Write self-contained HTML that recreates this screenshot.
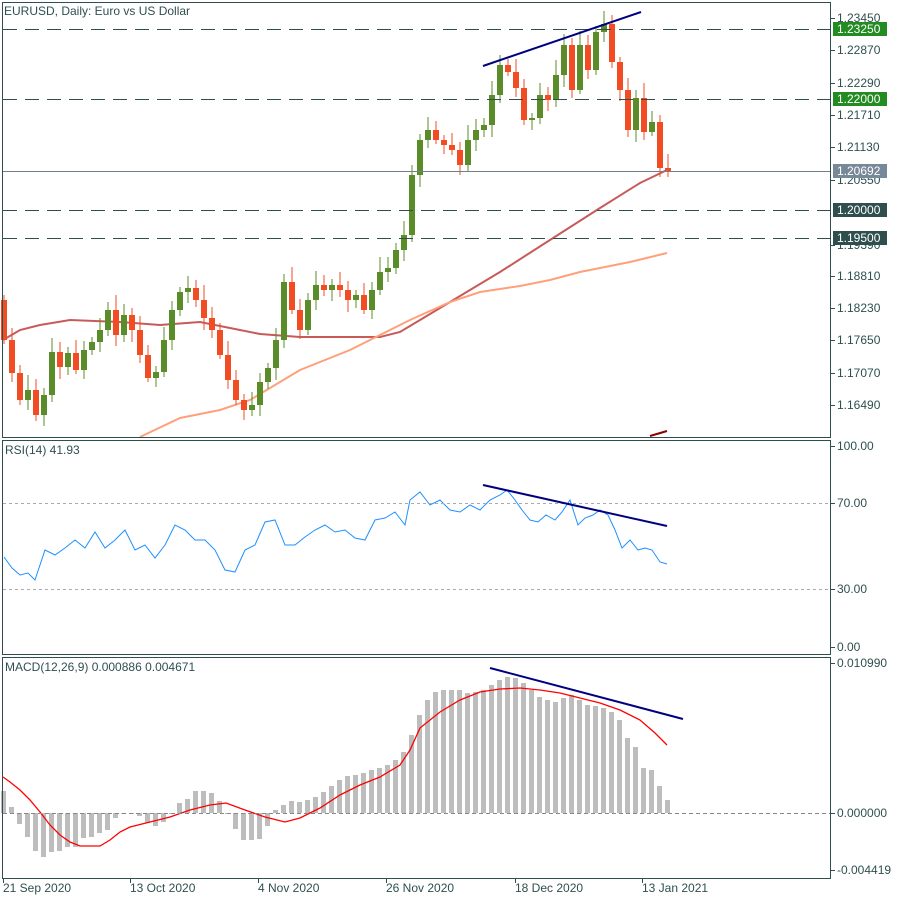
<!DOCTYPE html>
<html><head><meta charset="utf-8"><style>
body{margin:0;background:#fff;}
svg{display:block;font-family:"Liberation Sans",sans-serif;font-size:12px;}
</style></head><body>
<svg id="s" width="900" height="900" xmlns="http://www.w3.org/2000/svg">
<rect width="900" height="900" fill="#fff"/>
<g id="g"></g>
<g fill="none" stroke="#2f4f4f" stroke-width="1">
<rect x="2.5" y="2.5" width="828" height="435"/>
<rect x="2.5" y="440.5" width="828" height="214"/>
<rect x="2.5" y="657.5" width="828" height="221"/>
</g>
<g stroke-width="1">
<line x1="3" y1="29.5" x2="830" y2="29.5" stroke="#2f4f4f" stroke-dasharray="14,8"/>
<line x1="3" y1="99.5" x2="830" y2="99.5" stroke="#2f4f4f" stroke-dasharray="14,8"/>
<line x1="3" y1="171.5" x2="830" y2="171.5" stroke="#708090"/>
<line x1="3" y1="210.5" x2="830" y2="210.5" stroke="#2f4f4f" stroke-dasharray="14,8"/>
<line x1="3" y1="238.5" x2="830" y2="238.5" stroke="#2f4f4f" stroke-dasharray="14,8"/>
<line x1="3" y1="503.5" x2="830" y2="503.5" stroke="#aaa" stroke-dasharray="3,3"/>
<line x1="3" y1="589.5" x2="830" y2="589.5" stroke="#aaa" stroke-dasharray="3,3"/>
<line x1="3" y1="813.5" x2="830" y2="813.5" stroke="#888" stroke-dasharray="4,3"/>
</g>
<g fill="#2f4f4f">
<text x="4" y="15">EURUSD, Daily:  Euro vs US Dollar</text>
<text x="5" y="454">RSI(14) 41.93</text>
<text x="5" y="671">MACD(12,26,9) 0.000886 0.004671</text>
<g id="ticks" stroke="#2f4f4f"></g>
<text x="837" y="22">1.23450</text>
<text x="837" y="54">1.22870</text>
<text x="837" y="87">1.22290</text>
<text x="837" y="119">1.21710</text>
<text x="837" y="151">1.21130</text>
<text x="837" y="184">1.20550</text>
<text x="837" y="249">1.19390</text>
<text x="837" y="280">1.18810</text>
<text x="837" y="312">1.18230</text>
<text x="837" y="344">1.17650</text>
<text x="837" y="377">1.17070</text>
<text x="837" y="409">1.16490</text>
<text x="837" y="450">100.00</text>
<text x="837" y="507">70.00</text>
<text x="837" y="593">30.00</text>
<text x="837" y="651">0.00</text>
<text x="837" y="667">0.010990</text>
<text x="837" y="817">0.000000</text>
<text x="837" y="874">-0.004419</text>
<text x="3" y="892">21 Sep 2020</text>
<text x="130" y="892">13 Oct 2020</text>
<text x="258" y="892">4 Nov 2020</text>
<text x="386" y="892">26 Nov 2020</text>
<text x="515" y="892">18 Dec 2020</text>
<text x="642" y="892">13 Jan 2021</text>
</g>
<rect x="833" y="22" width="54" height="14" fill="#228b22"/><text x="837" y="33" fill="#fff">1.23250</text>
<rect x="833" y="92" width="54" height="14" fill="#228b22"/><text x="837" y="103" fill="#fff">1.22000</text>
<rect x="833" y="164" width="54" height="14" fill="#778899"/><text x="837" y="175" fill="#fff">1.20692</text>
<rect x="833" y="203" width="54" height="14" fill="#2f4f4f"/><text x="837" y="214" fill="#fff">1.20000</text>
<rect x="833" y="231" width="54" height="14" fill="#2f4f4f"/><text x="837" y="242" fill="#fff">1.19500</text>
<g stroke="#000080" stroke-width="2">
<line x1="483" y1="66" x2="641" y2="12"/>
<line x1="483" y1="485" x2="667" y2="526"/>
<line x1="490" y1="668" x2="683" y2="719"/>
</g>
</svg>
<script>
const NS="http://www.w3.org/2000/svg",g=document.getElementById('g');
function el(t,a){const e=document.createElementNS(NS,t);for(const k in a)e.setAttribute(k,a[k]);g.appendChild(e);return e;}
function poly(pts,c,w){el('polyline',{points:pts.map(p=>p.join(',')).join(' '),fill:'none',stroke:c,'stroke-width':w});}
const tk=document.getElementById('ticks');
[18,50,83,115,147,180,245,276,308,340,373,405,446,503,589,647,663,813,870].forEach(y=>{const l=document.createElementNS(NS,'line');l.setAttribute('x1',831);l.setAttribute('x2',835);l.setAttribute('y1',y+.5);l.setAttribute('y2',y+.5);tk.appendChild(l);});
[3,130,258,386,515,642].forEach(x=>{const l=document.createElementNS(NS,'line');l.setAttribute('x1',x+.5);l.setAttribute('x2',x+.5);l.setAttribute('y1',879);l.setAttribute('y2',883);l.setAttribute('stroke','#2f4f4f');document.getElementById('s').appendChild(l);});
const mh=[791,807,824,837,851,857,852,851,847,847,838,837,833,830,818,813,813,816,823,826,822,813,803,799,791,791,793,801,813,829,840,840,839,826,810,805,801,802,800,797,792,786,780,776,775,773,770,768,765,760,752,735,715,700,692,690,690,690,693,692,690,685,680,677,678,683,690,697,700,702,698,695,700,705,706,708,712,720,738,747,768,770,786,800];
mh.forEach((v,i)=>{const x=1+8*i;const y0=813;el('rect',{x:x,y:Math.min(v,y0),width:5,height:Math.max(1,Math.abs(v-y0)),fill:'#bdbdbd'});});
poly([[3,777],[10,782],[20,790],[30,800],[40,812],[50,825],[60,835],[70,842],[80,846],[100,846],[110,840],[120,832],[130,827],[150,822],[170,817],[190,810],[210,805],[226,803],[245,810],[265,817],[285,822],[300,818],[320,808],[340,795],[360,785],[380,777],[400,765],[410,750],[420,728],[440,712],[460,700],[480,692],[500,689],[520,688],[540,690],[560,693],[580,698],[600,703],[620,710],[640,720],[655,733],[667,745]],'#ff0000',1.3);
poly([[4,557],[12,568],[20,575],[28,573],[35,580],[45,550],[55,555],[65,548],[75,540],[85,548],[95,532],[105,548],[115,540],[125,530],[135,550],[145,545],[155,558],[165,545],[175,525],[185,530],[195,540],[205,540],[215,550],[225,570],[235,572],[245,550],[255,545],[265,522],[275,520],[285,545],[295,545],[305,537],[315,530],[325,525],[335,532],[345,530],[355,538],[365,540],[375,520],[385,518],[395,512],[405,525],[410,500],[420,492],[430,505],[440,500],[450,510],[460,512],[470,505],[480,510],[490,500],[500,495],[507,490],[515,500],[522,510],[530,520],[538,522],[546,515],[555,520],[562,512],[570,500],[578,525],[585,518],[593,515],[600,510],[608,515],[615,530],[622,548],[630,540],[638,550],[645,548],[652,550],[660,562],[667,564]],'#1e90ff',1);
poly([[3,340],[20,330],[40,325],[70,320],[120,322],[160,325],[200,322],[230,328],[260,334],[300,337],[380,337],[400,332],[420,320],[450,302],[500,272],[550,240],[600,208],[640,183],[667,170]],'#c85a5a',2);
poly([[140,437],[180,418],[220,410],[250,400],[300,370],[350,350],[410,320],[450,302],[480,292],[520,286],[550,280],[580,272],[630,262],[667,253]],'#ffa07a',2);
poly([[650,436],[667,431]],'#8b0000',2);
const cl=[340,373,400,390,415,395,352,367,353,370,350,342,330,310,335,315,330,355,378,372,340,310,292,288,300,318,330,355,380,400,410,405,382,368,340,282,310,330,300,285,290,285,290,300,295,310,290,272,268,250,235,175,140,130,140,145,150,165,140,130,125,95,65,72,88,120,118,95,100,75,45,90,45,70,32,24,62,90,130,98,132,122,168,172];
let prev=300;
cl.forEach((c,i)=>{const x=4+8*i;const o=prev;const up=c<o;const col=up?'#5b8c2a':'#f24c24';
 const top=Math.min(o,c),bot=Math.max(o,c);const hi=top-(5+((i*7)%11)),lo=bot+(4+((i*5)%9));
 el('line',{x1:x,y1:hi,x2:x,y2:lo,stroke:col,'stroke-width':1});
 el('rect',{x:x-3,y:top,width:6,height:Math.max(2,bot-top),fill:col});
 prev=c;});
</script>
</body></html>
